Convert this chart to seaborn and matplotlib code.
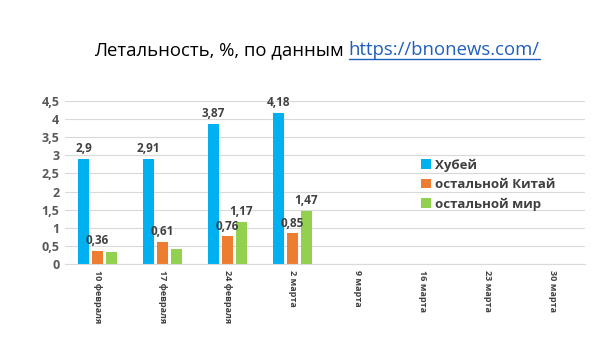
import matplotlib
matplotlib.use("Agg")
import matplotlib.pyplot as plt
import numpy as np
import pandas as pd
import seaborn as sns

# Data
weeks = ["10 февраля", "17 февраля", "24 февраля", "2 марта",
         "9 марта", "16 марта", "23 марта", "30 марта"]
series = ["Хубей", "остальной Китай", "остальной мир"]
hubei = [2.90, 2.91, 3.87, 4.18, np.nan, np.nan, np.nan, np.nan]
rest_china = [0.36, 0.61, 0.76, 0.85, np.nan, np.nan, np.nan, np.nan]
rest_world = [0.32, 0.42, 1.17, 1.47, np.nan, np.nan, np.nan, np.nan]
# which bars carry a value label in the original
show_label = {
    "Хубей": [True, True, True, True],
    "остальной Китай": [True, True, True, True],
    "остальной мир": [False, False, True, True],
}
colors = ["#00B0F0", "#ED7D31", "#92D050"]
y_ticks = [0, 0.5, 1, 1.5, 2, 2.5, 3, 3.5, 4, 4.5]

sns.set_style("white")
plt.rcParams["font.family"] = ["Open Sans", "DejaVu Sans"]

rows = []
for name, vals in zip(series, [hubei, rest_china, rest_world]):
    for w, v in zip(weeks, vals):
        rows.append({"week": w, "series": name, "value": v})
df = pd.DataFrame(rows)

fig = plt.figure(figsize=(6.10, 3.53), dpi=100)
ax = fig.add_axes([65 / 610, 1 - 264 / 353, 520 / 610, 163 / 353])

sns.barplot(data=df, x="week", y="value", hue="series", order=weeks,
            hue_order=series, palette=colors, width=0.65, gap=0.2,
            saturation=1, linewidth=0, ax=ax, legend=True)

ax.set_ylim(0, 4.5)
ax.set_xlim(-0.5, len(weeks) - 0.5)
ax.set_yticks(y_ticks)
ax.set_yticklabels([f"{t:g}".replace(".", ",") for t in y_ticks],
                   fontsize=9, fontweight="bold", color="#595959")
ax.set_xticks(range(len(weeks)))
ax.set_xticklabels(weeks, rotation=270, fontsize=6.5, fontweight="bold",
                   color="#404040", va="top", ha="center")
ax.tick_params(axis="both", length=0, pad=4)
ax.set_xlabel("")
ax.set_ylabel("")
ax.grid(axis="y", color="#D9D9D9", linewidth=0.8)
ax.set_axisbelow(True)
for side in ["left", "right", "top"]:
    ax.spines[side].set_visible(False)
ax.spines["bottom"].set_color("#D9D9D9")

# value labels above bars
for cont, name in zip(ax.containers, series):
    flags = show_label[name]
    i = 0
    for bar in cont:
        h = bar.get_height()
        if np.isnan(h):
            continue
        if i < len(flags) and flags[i]:
            ax.text(bar.get_x() + bar.get_width() / 2, h + 0.1,
                    f"{h:g}".replace(".", ","), ha="center", va="bottom",
                    fontsize=8.5, fontweight="bold", color="#404040",
                    clip_on=False)
        i += 1

leg = ax.legend(loc="upper left", bbox_to_anchor=(414 / 610, 1 - 152 / 353),
                bbox_transform=fig.transFigure, frameon=False,
                handlelength=0.7, handleheight=0.7, handletextpad=0.3,
                labelspacing=0.45, borderpad=0, title=None)
for t in leg.get_texts():
    t.set_fontsize(9.5)
    t.set_fontweight("bold")
    t.set_color("#404040")

# title: black part + blue underlined link
renderer = fig.canvas.get_renderer()
part1 = fig.text(0, 1 - 55 / 353, "Летальность, %, по данным ", fontsize=13.3,
                 color="#000000", va="baseline")
part2 = fig.text(0, 1 - 55 / 353, "https://bnonews.com/", fontsize=13.3,
                 color="#1F5FBF", va="baseline")
w1 = part1.get_window_extent(renderer).width / fig.bbox.width
w2 = part2.get_window_extent(renderer).width / fig.bbox.width
x0 = 317 / 610 - (w1 + w2) / 2
part1.set_x(x0)
part2.set_x(x0 + w1)
yline = 1 - 59 / 353
fig.add_artist(plt.Line2D([x0 + w1, x0 + w1 + w2], [yline, yline],
                          transform=fig.transFigure, color="#1F5FBF",
                          linewidth=1))

fig.savefig("out.png", dpi=100)
